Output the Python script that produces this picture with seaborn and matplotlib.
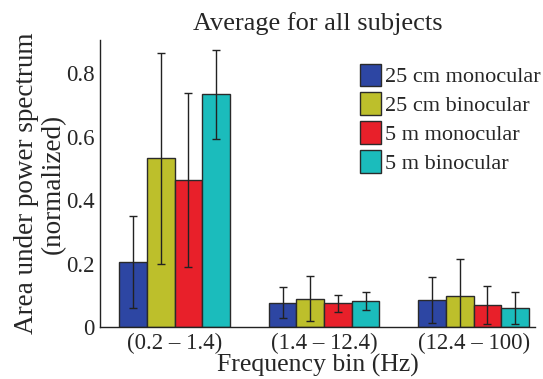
import numpy as np
import pandas as pd
import matplotlib
matplotlib.use("Agg")
import matplotlib.pyplot as plt
import seaborn as sns

# Values
bins = ["(0.2 – 1.4)", "(1.4 – 12.4)", "(12.4 – 100)"]
conditions = ["25 cm monocular", "25 cm binocular", "5 m monocular", "5 m binocular"]
means = {
    "25 cm monocular": [0.205, 0.077, 0.085],
    "25 cm binocular": [0.532, 0.090, 0.098],
    "5 m monocular": [0.463, 0.075, 0.070],
    "5 m binocular": [0.734, 0.082, 0.061],
}
errors = {
    "25 cm monocular": [0.145, 0.048, 0.072],
    "25 cm binocular": [0.333, 0.072, 0.115],
    "5 m monocular": [0.275, 0.027, 0.059],
    "5 m binocular": [0.140, 0.027, 0.050],
}
colors = ["#2d46a3", "#bdbf2b", "#e8202a", "#1bbcbc"]

rows = []
for c in conditions:
    for b, m, e in zip(bins, means[c], errors[c]):
        rows.append({"bin": b, "condition": c, "value": m, "err": e})
df = pd.DataFrame(rows)

sns.set_style("white")
plt.rcParams["font.family"] = ["Liberation Serif", "DejaVu Serif"]

fig = plt.figure(figsize=(5.43, 3.79), dpi=100)
ax = fig.add_axes([0.184, 0.137, 0.801, 0.757])

sns.barplot(data=df, x="bin", y="value", hue="condition", order=bins,
            hue_order=conditions, palette=colors, saturation=1, width=0.74,
            errorbar=None, edgecolor="#2a2a2a", linewidth=1.0, ax=ax)

# error bars at the centres of the drawn bars
for container, c in zip(ax.containers, conditions):
    xs = [p.get_x() + p.get_width() / 2 for p in container.patches]
    hs = [p.get_height() for p in container.patches]
    ax.errorbar(xs, hs, yerr=errors[c], fmt="none", ecolor="#222222",
                elinewidth=1.0, capsize=3, capthick=1.0)

ax.set_xlim(-0.5, 2.41)
ax.set_ylim(0, 0.904)
ax.set_yticks([0, 0.2, 0.4, 0.6, 0.8])
ax.set_yticklabels(["0", "0.2", "0.4", "0.6", "0.8"])
ax.tick_params(axis="both", labelsize=16.5, length=0, pad=4)
ax.set_title("Average for all subjects", fontsize=19, pad=7)
ax.set_xlabel("Frequency bin (Hz)", fontsize=18.5, labelpad=0)
ax.set_ylabel("Area under power spectrum\n(normalized)", fontsize=19.5,
              labelpad=0, linespacing=1.1)

for s in ["top", "right"]:
    ax.spines[s].set_visible(False)
for s in ["left", "bottom"]:
    ax.spines[s].set_color("#222222")
    ax.spines[s].set_linewidth(1.0)

ax.legend(loc="upper right", bbox_to_anchor=(1.045, 0.965), frameon=False,
          fontsize=16, handlelength=0.95, handleheight=1.2,
          handletextpad=0.2, labelspacing=0.22, borderaxespad=0.2)

fig.savefig("out.png", dpi=100)
